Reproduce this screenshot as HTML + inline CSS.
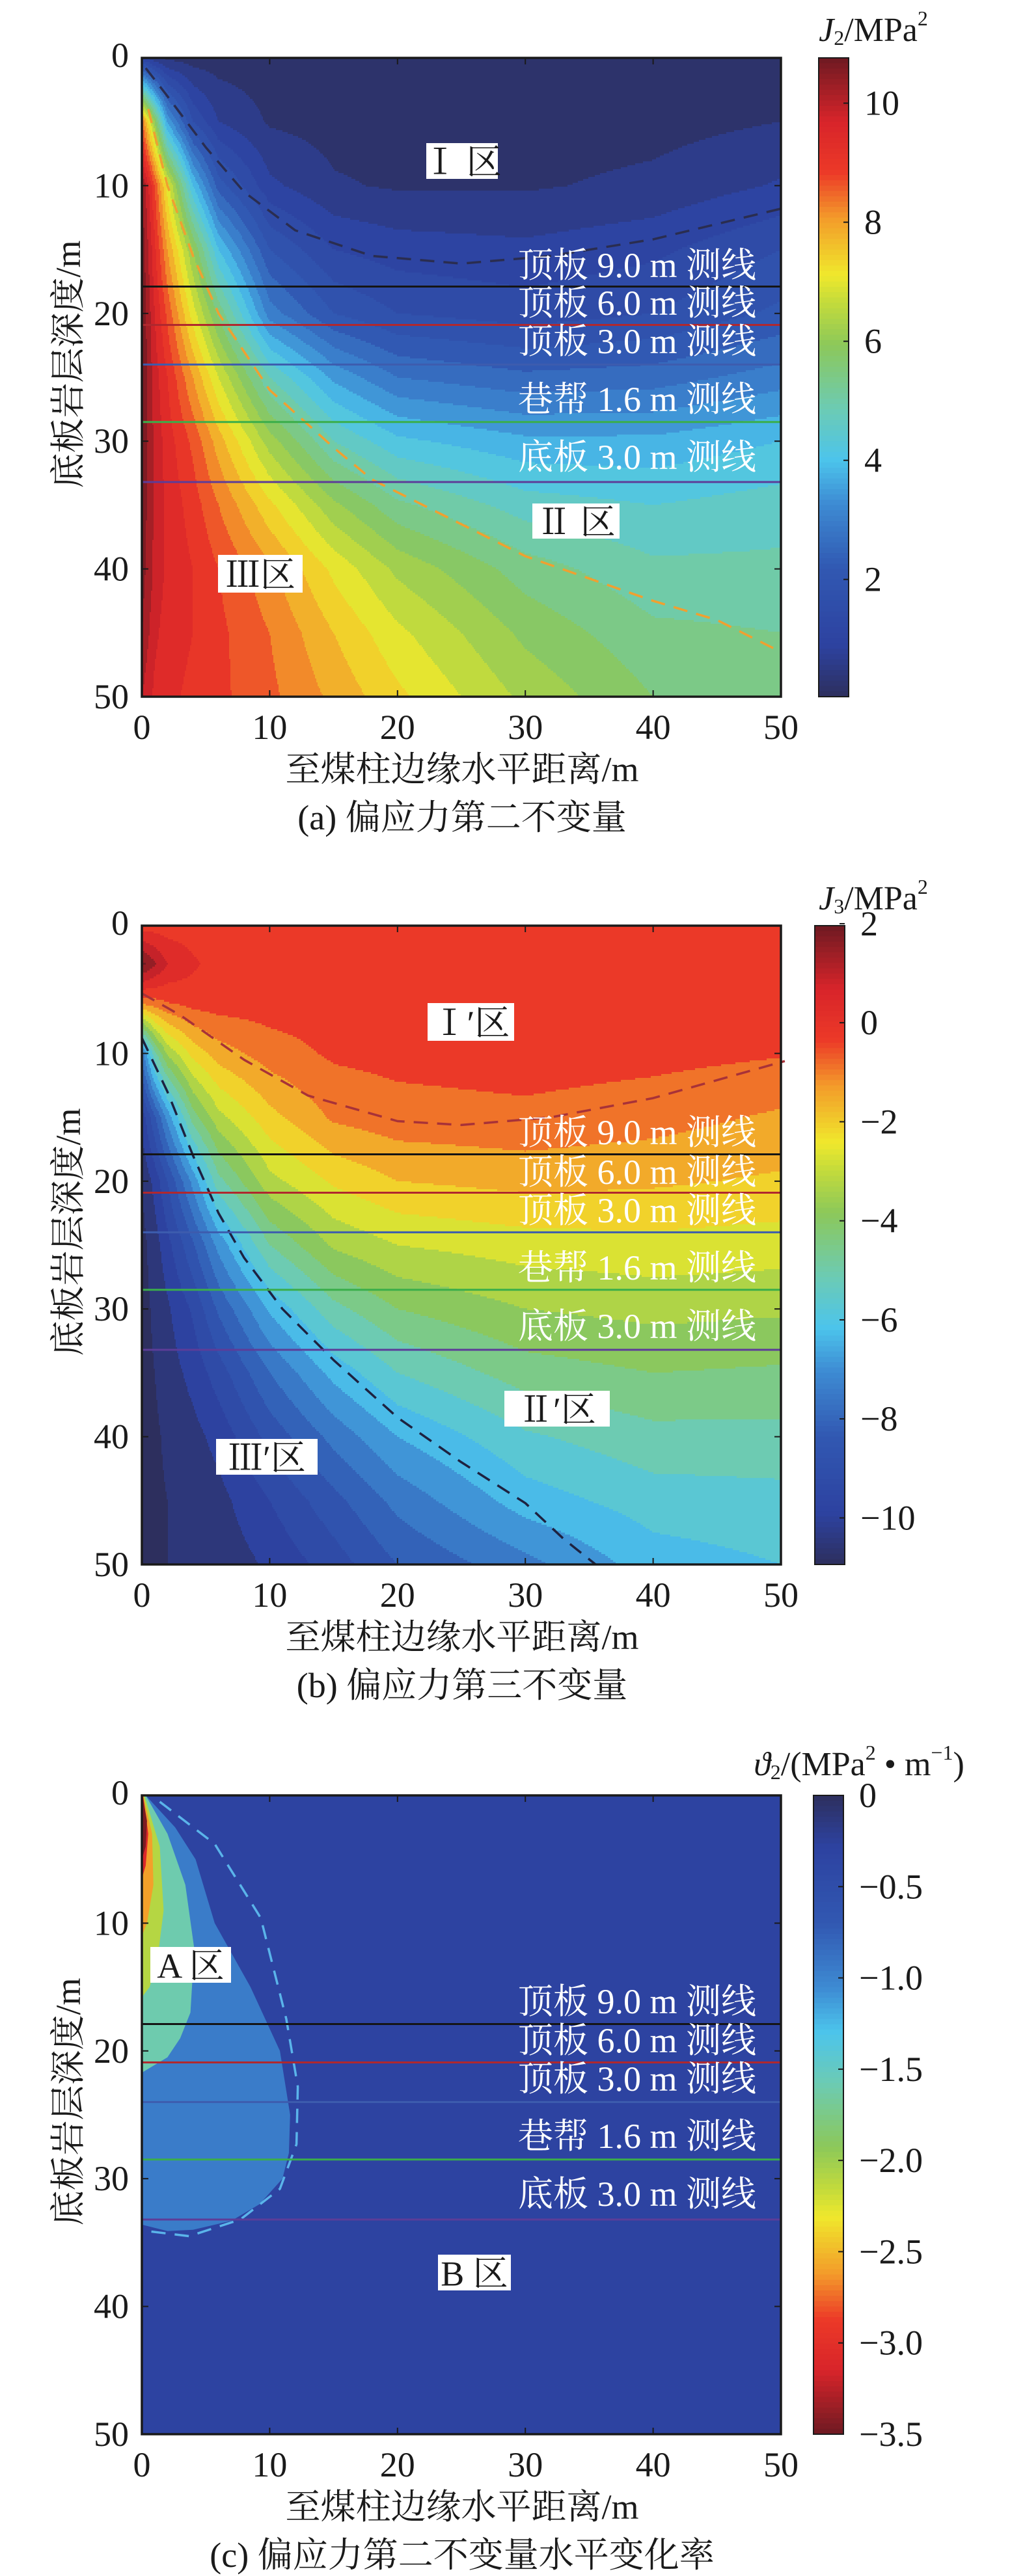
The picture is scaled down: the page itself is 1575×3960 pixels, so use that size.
<!DOCTYPE html>
<html><head><meta charset="utf-8"><title>偏应力不变量云图</title>
<style>
html,body{margin:0;padding:0;background:#fff;}
svg{display:block;}
text{font-family:"Liberation Serif","Noto Serif CJK SC","Noto Sans CJK SC",serif;fill:#1a1a1a;}
</style></head>
<body>
<svg id="fig" xmlns="http://www.w3.org/2000/svg" width="1575" height="3960" viewBox="0 0 1575 3960"></svg>
<script>
// ---------------- DATA ----------------
const aXs = [0,1,2,4,6,10,15,20,30,40,50];
const aYs = [0,5,10,15,20,25,30,35,40,45,50];
const aJ2 = [
 [1.0,0.5,0.3,0.2,0.2,0.2,0.2,0.2,0.2,0.2,0.2],
 [8.5,6,3.5,1.6,0.8,0.35,0.25,0.2,0.2,0.25,0.4],
 [10.5,8.8,7,4,2.2,0.9,0.45,0.35,0.35,0.5,0.85],
 [10.7,9.3,8,6,4,2,1.2,1.0,0.9,1.1,1.6],
 [10.8,9.6,8.7,7,5.5,3,2,1.6,1.4,1.6,2.1],
 [10.8,9.8,9.2,8,6.8,4.8,3.5,2.8,2.5,2.6,3.0],
 [10.8,9.9,9.4,8.7,7.8,6.2,4.8,4.1,3.7,3.7,4.0],
 [10.7,9.9,9.5,9,8.4,7.3,6.1,5.3,4.6,4.4,4.6],
 [10.6,9.9,9.5,9.2,8.8,8.1,7.1,6.3,5.4,4.9,4.9],
 [10.4,9.7,9.4,9.2,8.9,8.4,7.6,6.9,5.9,5.3,5.2],
 [10.0,9.5,9.3,9.1,8.9,8.5,7.9,7.3,6.3,5.6,5.4]
];
const aDashDarkX = [0.3,2,5,8,12,18,25,32,40,50];
const aDashDarkY = [0.8,3,7,10.5,13.5,15.5,16.1,15.5,14.2,11.8];
const aDashOrangeX = [0.5,2,4,6,10,15,18,25,30,40,45,50];
const aDashOrangeY = [4,10,15.5,20,26,30.5,33,36.5,39,42.5,44,46.5];

const bXs = [0,1,2,4,6,10,15,20,30,40,50];
const bYs = [0,3,6,10,15,20,25,30,35,40,45,50];
const bJ3 = [
 [-0.3,-0.3,-0.3,-0.3,-0.3,-0.3,-0.3,-0.3,-0.3,-0.3,-0.3],
 [2,1.3,0.6,0.1,-0.25,-0.3,-0.3,-0.3,-0.3,-0.3,-0.3],
 [-1,-0.8,-0.6,-0.35,-0.3,-0.3,-0.3,-0.3,-0.3,-0.3,-0.3],
 [-7.5,-5,-3.5,-2.2,-1.5,-0.9,-0.5,-0.4,-0.3,-0.4,-0.55],
 [-10,-8.5,-7,-4.5,-3.2,-2,-1.1,-0.85,-0.75,-0.95,-1.3],
 [-10.8,-10,-9,-7,-5,-3.2,-2.3,-1.8,-1.6,-1.7,-1.9],
 [-11,-10.5,-9.8,-8.5,-7,-4.8,-3.5,-3,-2.7,-2.6,-2.7],
 [-11,-10.7,-10.3,-9.5,-8.3,-6.5,-5,-4.2,-3.6,-3.4,-3.5],
 [-11,-10.8,-10.5,-10,-9.3,-7.8,-6.4,-5.4,-4.5,-4.2,-4.3],
 [-11,-10.9,-10.7,-10.4,-10,-8.8,-7.6,-6.6,-5.5,-5,-5],
 [-11,-10.9,-10.8,-10.6,-10.4,-9.6,-8.6,-7.6,-6.3,-5.7,-5.6],
 [-11,-10.9,-10.8,-10.7,-10.6,-10.1,-9.3,-8.4,-7.4,-6.3,-6.0]
];
const bDashRedX = [0,3,8,13,20,25,32,40,50.3];
const bDashRedY = [5.3,7,10.5,13.3,15.3,15.6,15,13.5,10.6];
const bDashBlackX = [0,2,4,6,8,11,15,20,25,30,33,35.5];
const bDashBlackY = [8.8,13,18,22.5,26,30,34,38.5,42,45.2,48,50];

const cBackground = -0.3;
const cZoneValues = [-0.95,-1.6,-2.1,-2.6,-3.1,-3.45];
const cZoneDepths = [
 [0,2.5,5,10,15,20,25,28,30,32,33.3,34,34.1,33.6],
 [0,3,7,12,17,19,20.5,21.7],
 [0,4,9,13,15,15.8],
 [0,3,7,10,11],
 [0,3,5.5,6.5],
 [0,2,4,5]
];
const cZoneXs = [
 [0.3,2.6,4.2,5.7,8.5,10.8,11.6,11.5,11.0,9.2,7,4,2,0],
 [0.3,2,3.4,4.1,3.8,3.0,2,0],
 [0.2,1.4,1.7,1.2,0.6,0],
 [0.1,0.8,0.9,0.4,0],
 [0.1,0.5,0.3,0],
 [0.05,0.4,0.3,0]
];
const cDashX = [1.4,5.7,9.3,11.3,12.2,12.1,10.8,7.7,3.7,0.4];
const cDashY = [0.5,3.8,9.6,17.5,22.8,27.3,30.8,33.2,34.5,34.1];

const lineDepths = [17.9,20.9,24.0,28.5,33.2];
const lineLabels = ["顶板 9.0 m 测线","顶板 6.0 m 测线","顶板 3.0 m 测线","巷帮 1.6 m 测线","底板 3.0 m 测线"];
const xTicks = [0,10,20,30,40,50];
const yTicks = [0,10,20,30,40,50];
const aCbTicks = [2,4,6,8,10];
const bCbTicks = [2,0,-2,-4,-6,-8,-10];
const cCbTicks = [0,-0.5,-1.0,-1.5,-2.0,-2.5,-3.0,-3.5];

// ---------------- helpers ----------------
const NS = "http://www.w3.org/2000/svg";
const svg = document.getElementById('fig');
function mk(tag, attrs, parent){
  const e = document.createElementNS(NS, tag);
  for (const k in attrs) e.setAttribute(k, attrs[k]);
  (parent||svg).appendChild(e);
  return e;
}
const stops = [[0,'#2d2f5e'],[0.08,'#2d42a0'],[0.2,'#3158b2'],[0.3,'#3d8ad2'],[0.37,'#4cc4ec'],[0.45,'#6ccbb4'],[0.55,'#8cc85a'],[0.62,'#c6dc3a'],[0.66,'#f0e82c'],[0.75,'#f39a2a'],[0.82,'#ec3a28'],[0.9,'#d8242a'],[1,'#6e1a22']];
function hex(h){return [parseInt(h.slice(1,3),16),parseInt(h.slice(3,5),16),parseInt(h.slice(5,7),16)];}
function cmap(t){
  t=Math.max(0,Math.min(1,t));
  for(let i=0;i<stops.length-1;i++){
    if(t<=stops[i+1][0]){
      const a=hex(stops[i][1]),b=hex(stops[i+1][1]);
      const f=(t-stops[i][0])/(stops[i+1][0]-stops[i][0]);
      return 'rgb('+a.map((v,k)=>Math.round(v+(b[k]-v)*f)).join(',')+')';
    }
  }
  return stops[stops.length-1][1];
}
function seg(arr,v){
  for(let i=0;i<arr.length-1;i++) if(v<=arr[i+1]) return i;
  return arr.length-2;
}
function interp(xs,ys,Z,x,y){
  const i=seg(xs,x), j=seg(ys,y);
  const tx=Math.max(0,Math.min(1,(x-xs[i])/(xs[i+1]-xs[i])));
  const ty=Math.max(0,Math.min(1,(y-ys[j])/(ys[j+1]-ys[j])));
  const a=Z[j][i],b=Z[j][i+1],c=Z[j+1][i],d=Z[j+1][i+1];
  return (a*(1-tx)+b*tx)*(1-ty)+(c*(1-tx)+d*tx)*ty;
}

function panel(cfg){
  const L=218,R=1200,T=cfg.top,B=cfg.top+982;
  const sx=v=>L+(v/50)*(R-L);
  const sy=v=>T+(v/50)*(B-T);
  const g=mk('g',{});
  
  
  const clipId='clip-'+cfg.key;
  const cp=mk('clipPath',{id:clipId},g);
  mk('rect',{x:L,y:T,width:R-L,height:B-T},cp);
  const plot=mk('g',{'clip-path':'url(#'+clipId+')'},g);
  
  
  const tOf=v=>cfg.tOf(v);
  if(cfg.grid){
    const cw=2,rh=3;
    for(let py=T;py<B;py+=rh){
      const d=((py+rh/2)-T)/(B-T)*50;
      let runStart=L,runBand=null;
      for(let px=L;px<=R;px+=cw){
        let band=null;
        if(px<R){
          const x=((px+cw/2)-L)/(R-L)*50;
          const v=interp(cfg.xs,cfg.ys,cfg.Z,x,d);
          band=Math.floor((v-cfg.vmin)/cfg.step);
        }
        if(band!==runBand){
          if(runBand!==null){
            const r=mk('rect',{x:runStart,y:py,width:px-runStart+0.6,height:rh+0.6,fill:cmap(tOf(cfg.vmin+(runBand+0.5)*cfg.step))},plot);
            
            
          }
          runStart=px;runBand=band;
        }
      }
    }
  }
  if(cfg.zones){
    const bg=mk('rect',{x:L,y:T,width:R-L,height:B-T,fill:cmap(tOf(cfg.bgValue))},plot);
    
    
    cfg.zones.forEach((z,k)=>{
      let dstr='M'+sx(0)+','+sy(z.d[0]);
      z.d.forEach((dd,i)=>{dstr+=' L'+sx(z.x[i]).toFixed(1)+','+sy(dd).toFixed(1);});
      dstr+=' Z';
      const p=mk('path',{d:dstr,fill:cmap(tOf(z.v)),'stroke':'none'},plot);
      
      
    });
  }
  (cfg.dashes||[]).forEach(ds=>{
    const pts=ds.x.map((xv,i)=>sx(xv).toFixed(1)+','+sy(ds.y[i]).toFixed(1)).join(' ');
    const pl=mk('polyline',{points:pts,fill:'none',stroke:ds.color,'stroke-width':3.5,'stroke-dasharray':'22 14','stroke-linejoin':'round'},ds.clip===false?g:plot);
    
    
  });
  const lc=['#151515','#b0282e','#3d5cae','#3aae4a','#5d3c98'];
  lineDepths.forEach((dd,i)=>{
    const ln=mk('line',{x1:L,x2:R,y1:sy(dd),y2:sy(dd),stroke:lc[i],'stroke-width':3},g);
    
    
    const t=mk('text',{x:1162,y:cfg.labelY[i],'text-anchor':'end','dominant-baseline':'central','font-size':54,style:'fill:#ffffff'},g);
    t.textContent=lineLabels[i];
    
    
  });
  cfg.zoneLabels.forEach(z=>{
    const r=mk('rect',{x:z.x0,y:z.y0,width:z.x1-z.x0,height:z.y1-z.y0,fill:'#fff'},g);
    
    
    const t=mk('text',{x:(z.x0+z.x1)/2,y:(z.y0+z.y1)/2+2,'text-anchor':'middle','dominant-baseline':'central','font-size':54},g);
    t.textContent=z.t;
    
    
  });
  const fr=mk('rect',{x:L,y:T,width:R-L,height:B-T,fill:'none',stroke:'#1a1a1a','stroke-width':3.5},g);
  
  
  xTicks.forEach(v=>{
    mk('line',{x1:sx(v),x2:sx(v),y1:B,y2:B-10,stroke:'#1a1a1a','stroke-width':2},g);
    mk('line',{x1:sx(v),x2:sx(v),y1:T,y2:T+10,stroke:'#1a1a1a','stroke-width':2},g);
    const t=mk('text',{x:sx(v),y:B+47,'text-anchor':'middle','dominant-baseline':'central','font-size':54},g);
    t.textContent=v;
    
    
  });
  yTicks.forEach(v=>{
    mk('line',{x1:L,x2:L+10,y1:sy(v),y2:sy(v),stroke:'#1a1a1a','stroke-width':2},g);
    mk('line',{x1:R,x2:R-10,y1:sy(v),y2:sy(v),stroke:'#1a1a1a','stroke-width':2},g);
    const t=mk('text',{x:198,y:sy(v)+(v===0?-4:0),'text-anchor':'end','dominant-baseline':'central','font-size':54},g);
    t.textContent=v;
    
    
  });
  const yl=mk('text',{x:0,y:0,'text-anchor':'middle','dominant-baseline':'central','font-size':54,transform:'translate(105,'+((T+B)/2-20)+') rotate(-90)'},g);
  yl.textContent='底板岩层深度/m';
  
  
  const xl=mk('text',{x:710,y:B+112,'text-anchor':'middle','dominant-baseline':'central','font-size':54},g);
  xl.textContent='至煤柱边缘水平距离/m';
  
  
  const cap=mk('text',{x:cfg.capX,y:B+186,'text-anchor':'middle','dominant-baseline':'central','font-size':54},g);
  cap.textContent=cfg.caption;
  
  
  const cb=mk('g',{},g);
  
  
  const cx0=cfg.cbX, cw=46, n=120;
  for(let i=0;i<n;i++){
    const v=cfg.cbMax-(i+0.5)/n*(cfg.cbMax-cfg.cbMin);
    mk('rect',{x:cx0,y:T+i*(B-T)/n,width:cw,height:(B-T)/n+0.8,fill:cmap(tOf(v))},cb);
  }
  mk('rect',{x:cx0,y:T,width:cw,height:B-T,fill:'none',stroke:'#1a1a1a','stroke-width':2},cb);
  const cy=v=>T+(cfg.cbMax-v)/(cfg.cbMax-cfg.cbMin)*(B-T);
  cfg.cbTicks.forEach(v=>{
    mk('line',{x1:cx0+cw,x2:cx0+cw-8,y1:cy(v),y2:cy(v),stroke:'#1a1a1a','stroke-width':2},cb);
    const s=cfg.cbFmt(v);
    const t=mk('text',{x:cx0+cw+24,y:cy(v),'dominant-baseline':'central','font-size':54},cb);
    t.textContent=s;
    
    
  });
  const ct=mk('text',{x:cfg.cbTitleX,y:cfg.cbTitleY,'text-anchor':'middle','dominant-baseline':'central','font-size':52},g);
  ct.innerHTML=cfg.cbTitle;
  
  
}
const minus=v=>(v<0?'\u2212':'')+Math.abs(v);
const minus1=v=>(v<0?'\u2212':'')+Math.abs(v).toFixed(1).replace(/^0\.0$/,'0');

panel({key:'a',name:'panel-a-j2',top:89,grid:true,xs:aXs,ys:aYs,Z:aJ2,vmin:0,step:0.4,
  tOf:v=>(v-0.03)/(10.76-0.03),
  dashes:[{x:aDashDarkX,y:aDashDarkY,color:'#2a2d50',name:'contour-dash-zone1'},{x:aDashOrangeX,y:aDashOrangeY,color:'#f0a030',name:'contour-dash-zone3'}],
  labelY:[408,466,525,614,703],
  zoneLabels:[{x0:655,x1:765,y0:220,y1:275,t:'Ⅰ 区'},{x0:818,x1:952,y0:774,y1:828,t:'Ⅱ 区'},{x0:335,x1:465,y0:853,y1:911,t:'Ⅲ区'}],
  caption:'(a) 偏应力第二不变量',capX:710,
  cbX:1258,cbMin:0.03,cbMax:10.76,cbTicks:aCbTicks,cbFmt:minus,
  cbTitleX:1342,cbTitleY:46,cbTitle:'<tspan font-style="italic">J</tspan><tspan font-size="32" dy="12">2</tspan><tspan dy="-12">/MPa</tspan><tspan font-size="32" dy="-18">2</tspan>'});

panel({key:'b',name:'panel-b-j3',top:1423,grid:true,xs:bXs,ys:bYs,Z:bJ3,vmin:-10.8,step:0.6,
  tOf:v=>(v+10.94)/(1.96+10.94),
  dashes:[{x:bDashRedX,y:bDashRedY,color:'#a83238',name:'contour-dash-zone1',clip:false},{x:bDashBlackX,y:bDashBlackY,color:'#1e2240',name:'contour-dash-zone3'}],
  labelY:[1741,1802,1861,1949,2039],
  zoneLabels:[{x0:657,x1:790,y0:1542,y1:1600,t:'Ⅰ′区'},{x0:775,x1:937,y0:2138,y1:2193,t:'Ⅱ′区'},{x0:332,x1:488,y0:2212,y1:2267,t:'Ⅲ′区'}],
  caption:'(b) 偏应力第三不变量',capX:710,
  cbX:1252,cbMin:-10.94,cbMax:1.96,cbTicks:bCbTicks,cbFmt:minus,
  cbTitleX:1342,cbTitleY:1381,cbTitle:'<tspan font-style="italic">J</tspan><tspan font-size="32" dy="12">3</tspan><tspan dy="-12">/MPa</tspan><tspan font-size="32" dy="-18">2</tspan>'});

panel({key:'c',name:'panel-c-theta2',top:2760,grid:false,bgValue:cBackground,
  zones:cZoneValues.map((v,i)=>({v:v,d:cZoneDepths[i],x:cZoneXs[i]})),
  tOf:v=>-v/3.5,
  dashes:[{x:cDashX,y:cDashY,color:'#5ab4ea',name:'contour-dash-zoneA'}],
  labelY:[3077,3137,3196,3284,3373],
  zoneLabels:[{x0:231,x1:355,y0:2993,y1:3048,t:'A 区'},{x0:673,x1:785,y0:3466,y1:3521,t:'B 区'}],
  caption:'(c) 偏应力第二不变量水平变化率',capX:710,
  cbX:1250,cbMin:-3.5,cbMax:0,cbTicks:cCbTicks,cbFmt:minus1,
  cbTitleX:1320,cbTitleY:2712,cbTitle:'<tspan font-style="italic">ϑ</tspan><tspan font-size="32" dy="12">2</tspan><tspan dy="-12">/(MPa</tspan><tspan font-size="32" dy="-18">2</tspan><tspan dy="18"> • m</tspan><tspan font-size="32" dy="-18">−1</tspan><tspan dy="18">)</tspan>'});
</script>
</body></html>
